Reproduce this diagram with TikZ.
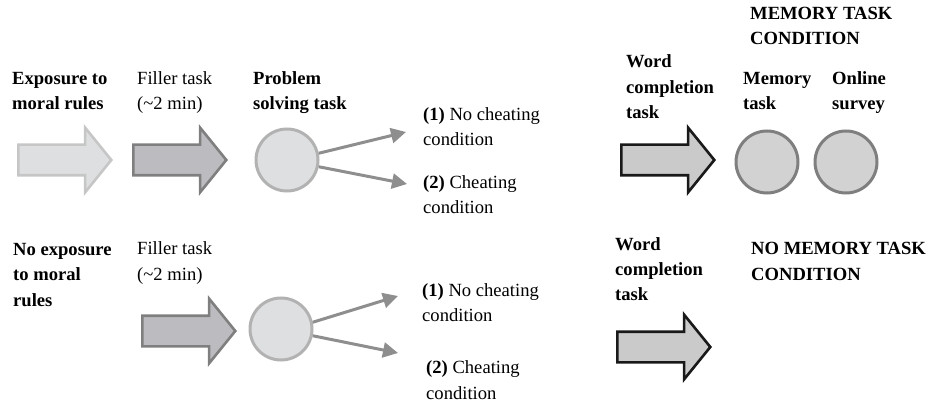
\documentclass[tikz,border=0pt]{standalone}
\usepackage{fontspec}
\setmainfont{Liberation Serif}
\usetikzlibrary{shapes.arrows,arrows.meta}
\definecolor{palefill}{HTML}{DEDFE0}
\definecolor{paleline}{HTML}{C6C6C6}
\definecolor{midfill}{HTML}{BCBCC0}
\definecolor{midline}{HTML}{7F7F7F}
\definecolor{linkgray}{HTML}{8E8E8E}
\definecolor{wordfill}{HTML}{CACACA}
\definecolor{memfill}{HTML}{D2D2D2}
\begin{document}
\begin{tikzpicture}[x=1pt,y=-1pt,
    txt/.style={anchor=base west, align=left, inner sep=0pt, font=\fontsize{18.6}{25.5}\selectfont},
    bold/.style={txt, font=\fontsize{18.6}{25.5}\selectfont\bfseries},
    bigarrow/.style={single arrow, anchor=tail, line width=2.6pt, inner xsep=0pt, inner ysep=14pt,
        minimum width=0pt, minimum height=93pt, single arrow head extend=17pt, single arrow tip angle=102},
    dot/.style={circle, line width=3pt, minimum size=62pt, inner sep=0pt},
    link/.style={linkgray, line width=3pt, -{Triangle[length=15pt,width=15pt]}}]
    \useasboundingbox (0,0) rectangle (935,406);

    % top row: exposure (text nodes sit on the baseline of their last line)
    \node[bold] (expo) at (12,110) {Exposure to\\moral rules};
    \node[txt] (fill1) at (137,110) {Filler task\\(\textasciitilde2 min)};
    \node[bold] (prob) at (253,110) {Problem\\solving task};
    \node[bigarrow, fill=palefill, draw=paleline] (arr1) at (17,160) {};
    \node[bigarrow, fill=midfill, draw=midline] (arr2) at (132,160) {};
    \node[dot, fill=palefill, draw=paleline!90!black] (solve1) at (287,160) {};
    \coordinate (up1) at (406,132);
    \coordinate (dn1) at (407,184);
    \draw[link] (solve1.12) -- (up1);
    \draw[link] (solve1.-12) -- (dn1);
    \node[txt] (nochea1) at (423,146) {\textbf{(1)} No cheating\\condition};
    \node[txt] (chea1) at (423,214) {\textbf{(2)} Cheating\\condition};

    \node[bold] (memcond) at (750,45) {MEMORY TASK\\CONDITION};
    \node[bold] (word1) at (626,119) {Word\\completion\\task};
    \node[bold] (memlab) at (743,110) {Memory\\task};
    \node[bold] (onlab) at (832,110) {Online\\survey};
    \node[bigarrow, fill=wordfill, draw=black!90] (arr3) at (620,160) {};
    \node[dot, fill=memfill, draw=midline] (mem) at (767,162) {};
    \node[dot, fill=memfill, draw=midline] (online) at (846,162) {};

    % bottom row: no exposure
    \node[bold] (noexpo) at (13,306) {No exposure\\to moral\\rules};
    \node[txt] (fill2) at (137,280) {Filler task\\(\textasciitilde2 min)};
    \node[bigarrow, fill=midfill, draw=midline] (arr4) at (141,331) {};
    \node[dot, fill=palefill, draw=paleline!90!black] (solve2) at (281,329) {};
    \coordinate (up2) at (398,296);
    \coordinate (dn2) at (398,353);
    \draw[link] (solve2.12) -- (up2);
    \draw[link] (solve2.-12) -- (dn2);
    \node[txt] (nochea2) at (422,322) {\textbf{(1)} No cheating\\condition};
    \node[txt] (chea2) at (426,399) {\textbf{(2)} Cheating\\condition};

    \node[bold] (word2) at (615,301) {Word\\completion\\task};
    \node[bold] (nomem) at (751,280) {NO MEMORY TASK\\CONDITION};
    \node[bigarrow, fill=wordfill, draw=black!90] (arr5) at (616,347) {};
\end{tikzpicture}
\end{document}
